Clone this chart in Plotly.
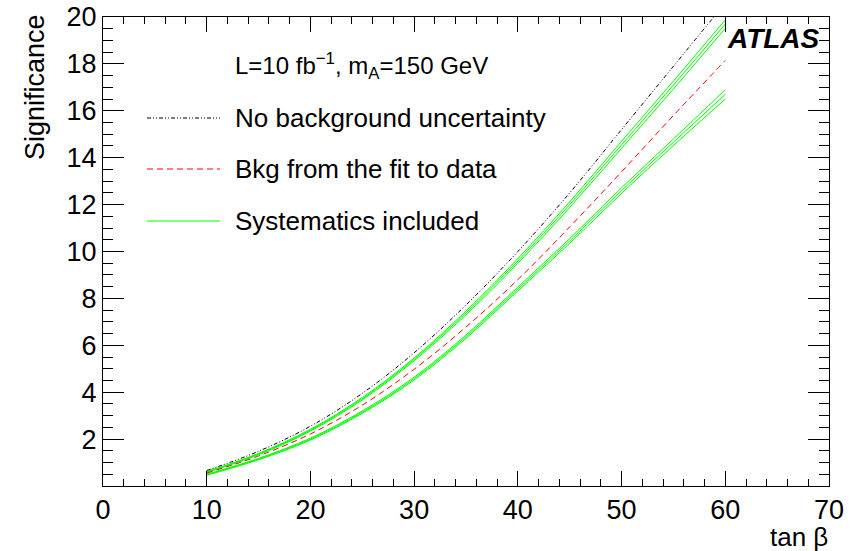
import plotly.graph_objects as go

# ---------------- data ----------------
tanb = [10, 15, 20, 25, 30, 35, 40, 45, 50, 55, 60]

no_bkg_unc = [0.66, 1.48, 2.55, 3.95, 5.68, 7.72, 10.0, 12.5, 15.2, 17.9, 20.6]
bkg_fit = [0.55, 1.28, 2.22, 3.45, 4.98, 6.78, 8.80, 11.05, 13.40, 15.80, 18.15]

syst_up_hi = [0.62, 1.39, 2.42, 3.77, 5.46, 7.46, 9.70, 12.12, 14.70, 17.27, 19.88]
syst_up_mid = [0.60, 1.36, 2.38, 3.72, 5.40, 7.38, 9.60, 12.00, 14.55, 17.10, 19.70]
syst_up_lo = [0.58, 1.33, 2.34, 3.67, 5.34, 7.30, 9.50, 11.88, 14.40, 16.93, 19.52]

syst_lo_hi = [0.50, 1.18, 2.04, 3.20, 4.64, 6.44, 8.48, 10.55, 12.72, 14.80, 16.90]
syst_lo_mid = [0.48, 1.15, 2.00, 3.15, 4.58, 6.37, 8.40, 10.45, 12.60, 14.66, 16.70]
syst_lo_lo = [0.46, 1.12, 1.96, 3.10, 4.52, 6.30, 8.32, 10.35, 12.48, 14.52, 16.50]

x_ticks = [0, 10, 20, 30, 40, 50, 60, 70]
y_ticks = [2, 4, 6, 8, 10, 12, 14, 16, 18, 20]

legend_labels = ["No background uncertainty", "Bkg from the fit to data", "Systematics included"]
info_text = "L=10 fb<sup>−1</sup>, m<sub>A</sub>=150 GeV"

# ---------------- styles ----------------
FONT = "Liberation Sans, Arial, Helvetica, sans-serif"
GREEN = "#00ff00"
BLACK_DASH = "4px,2px,1px,2px,1px,2px"
RED_DASH = "6px,4px"

fig = go.Figure()

for ys in [syst_up_hi, syst_up_mid, syst_up_lo, syst_lo_hi, syst_lo_mid, syst_lo_lo]:
    fig.add_trace(go.Scatter(x=tanb, y=ys, mode="lines", line=dict(color=GREEN, width=1, shape="spline"),
                             showlegend=False, hoverinfo="skip"))

fig.add_trace(go.Scatter(x=tanb, y=bkg_fit, mode="lines",
                         line=dict(color="red", width=1, dash=RED_DASH, shape="spline"), showlegend=False))
fig.add_trace(go.Scatter(x=tanb, y=no_bkg_unc, mode="lines",
                         line=dict(color="black", width=1, dash=BLACK_DASH, shape="spline"), showlegend=False))

# plot area in pixels (for paper coordinate conversion)
W, H = 858, 551
L, R, T, B = 103, 29, 17, 65
pw, ph = W - L - R, H - T - B


def px(xp):
    return (xp - L) / pw


def py(yp):
    return (H - B - yp) / ph


shapes = []
annotations = []
leg_y = [118, 169, 221]
leg_styles = [dict(color="black", width=1, dash=BLACK_DASH),
              dict(color="red", width=1, dash=RED_DASH),
              dict(color=GREEN, width=1)]
for yy, st, lab in zip(leg_y, leg_styles, legend_labels):
    shapes.append(dict(type="line", xref="paper", yref="paper", x0=px(147), x1=px(220),
                       y0=py(yy), y1=py(yy), line=st))
    annotations.append(dict(text=lab, xref="paper", yref="paper", x=px(233), y=py(yy),
                            xanchor="left", yanchor="middle", showarrow=False,
                            font=dict(family=FONT, size=26, color="black")))

annotations.append(dict(text=info_text, xref="paper", yref="paper", x=px(233), y=py(66),
                        xanchor="left", yanchor="middle", showarrow=False,
                        font=dict(family=FONT, size=24, color="black")))
annotations.append(dict(text="<b><i>ATLAS</i></b>", xref="paper", yref="paper", x=px(822), y=py(38),
                        xanchor="right", yanchor="middle", showarrow=False,
                        font=dict(family=FONT, size=28, color="black")))
annotations.append(dict(text="tan β", xref="paper", yref="paper", x=px(830), y=py(537),
                        xanchor="right", yanchor="middle", showarrow=False,
                        font=dict(family=FONT, size=26, color="black")))
annotations.append(dict(text="Significance", xref="paper", yref="paper", x=px(35), y=py(12),
                        xanchor="center", yanchor="top", textangle=-90, showarrow=False,
                        font=dict(family=FONT, size=27, color="black")))

fig.update_layout(
    width=W, height=H,
    margin=dict(l=L, r=R, t=T, b=B, pad=0, autoexpand=False),
    paper_bgcolor="white", plot_bgcolor="white",
    font=dict(family=FONT, size=27, color="black"),
    shapes=shapes, annotations=annotations,
    showlegend=False,
)
fig.update_xaxes(range=[0, 70], tickvals=x_ticks, ticks="inside", ticklen=15, tickcolor="black",
                 showgrid=False, zeroline=False, showline=True, linecolor="black", linewidth=1,
                 mirror="ticks", tickfont=dict(size=27), automargin=False,
                 minor=dict(dtick=2, ticks="inside", ticklen=7, tickcolor="black", showgrid=False))
fig.update_yaxes(range=[0, 20], tickvals=y_ticks, ticks="inside", ticklen=21, tickcolor="black",
                 showgrid=False, zeroline=False, showline=True, linecolor="black", linewidth=1,
                 mirror="ticks", tickfont=dict(size=27), automargin=False,
                 minor=dict(dtick=0.5, ticks="inside", ticklen=10, tickcolor="black", showgrid=False))

fig.write_html("out.html")
